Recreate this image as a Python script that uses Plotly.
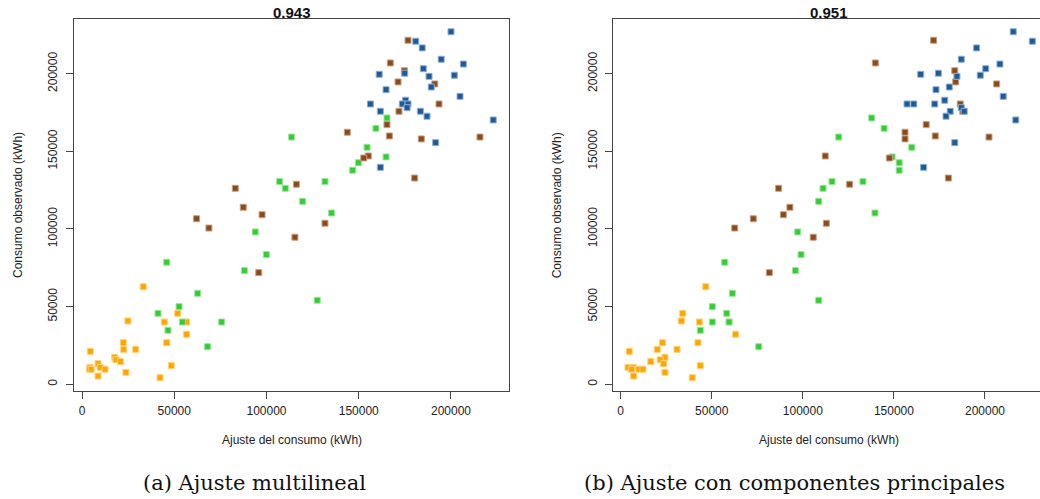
import plotly.graph_objects as go

# Consumo observado (kWh) por grupo y ajuste de cada modelo
obs_g1 = [62850, 45700, 40800, 40100, 40100, 32200, 26800, 26800, 22500, 22500, 21200, 17400,
          15800, 14600, 13300, 12000, 10900, 10900, 9700, 9700, 9700, 7700, 5300, 4250]
mult_g1 = [33200, 51850, 24900, 44600, 56700, 56700, 22400, 45900, 22600, 29100, 4500, 17700,
           18400, 20800, 8700, 48400, 9900, 4300, 4000, 12500, 5000, 23800, 8700, 42300]
acp_g1 = [46700, 34000, 33300, 43200, 59500, 63100, 22900, 42400, 20100, 30900, 4700, 24300,
          21700, 16500, 23600, 43700, 4000, 6800, 6000, 10000, 12200, 24300, 7100, 39300]

obs_g2 = [171500, 164800, 159200, 152600, 146400, 142700, 137800, 130500, 130500, 126200, 117800, 110300,
          98100, 83500, 78600, 73200, 58600, 54100, 50000, 45700, 40100, 40100, 34800, 24200]
mult_g2 = [165300, 159300, 113600, 154500, 164800, 149800, 146700, 107100, 131700, 110200, 119600, 135300,
           93900, 99900, 45900, 88000, 62700, 127500, 52600, 41200, 54400, 75700, 46600, 68100]
acp_g2 = [137800, 144600, 119700, 159800, 149000, 152900, 152900, 116000, 133000, 111100, 108700, 139600,
          97200, 99000, 57100, 95900, 61300, 108700, 50300, 58200, 50300, 59500, 43700, 75800]

obs_g3 = [221500, 206900, 201900, 194700, 193400, 180500, 175800, 167200, 162300, 159900, 159200, 158000,
          147000, 145700, 132800, 128800, 126200, 114000, 109200, 106600, 103700, 100600, 94700, 71900]
mult_g3 = [176700, 167100, 174700, 171300, 191200, 193500, 171800, 165300, 143800, 166600, 215700, 183900,
           155200, 152700, 180300, 116200, 83100, 87400, 97600, 62100, 131700, 68800, 115400, 95800]
acp_g3 = [171800, 139800, 183400, 183900, 206400, 186400, 187800, 167700, 156100, 172700, 202200, 156100,
          112300, 147500, 179900, 125700, 86700, 92900, 89300, 72800, 112900, 62600, 105700, 81600]

obs_g4 = [227000, 220900, 216600, 209300, 206200, 203200, 200300, 199600, 199000, 198300, 191400, 189700,
          185400, 182900, 180500, 180500, 180500, 178100, 175800, 175800, 172600, 170200, 155600, 139700]
mult_g4 = [200000, 180900, 184400, 194700, 206700, 185000, 174900, 161100, 201800, 188100, 189300, 164800,
           204900, 175400, 156300, 173600, 176700, 176200, 161700, 183400, 187000, 222900, 191700, 161700]
acp_g4 = [215500, 226000, 195400, 187000, 208200, 200400, 174400, 164700, 197400, 184600, 180400, 173100,
          210000, 177900, 157200, 160900, 172400, 187000, 180900, 188600, 178600, 216900, 183400, 166300]

grupos = [
    (obs_g1, mult_g1, acp_g1, "#FFA500", "#FFD27A"),
    (obs_g2, mult_g2, acp_g2, "#33CC33", "#9BE59B"),
    (obs_g3, mult_g3, acp_g3, "#8B4A1A", "#C9A184"),
    (obs_g4, mult_g4, acp_g4, "#1E5A9A", "#8FB0D2"),
]

r2_valores = ["0.943", "0.951"]
subtitulos = ["(a) Ajuste multilineal", "(b) Ajuste con componentes principales"]
ticks = [0, 50000, 100000, 150000, 200000]

W, H = 1040, 499
fig = go.Figure()

for obs, mult, acp, color, borde in grupos:
    for ajuste, xa, ya in ((mult, "x", "y"), (acp, "x2", "y2")):
        fig.add_trace(go.Scatter(
            x=ajuste, y=obs, mode="markers", xaxis=xa, yaxis=ya, showlegend=False,
            marker=dict(symbol="square", size=6, color=color,
                        line=dict(color=borde, width=1)),
        ))

# Cajas de los paneles en píxeles
paneles = [(74, 509), (613.3, 1040)]
top_px, bot_px = 18.7, 391
y_dom = [(H - bot_px) / H, (H - top_px) / H]
x_rangos = [[-4336, 231440], [-4060, 230200]]
y_rango = [-4314, 235400]

eje_font = dict(family="Liberation Sans, Arial, sans-serif", size=12, color="#222")
for i, ((x0, x1), xr) in enumerate(zip(paneles, x_rangos)):
    sfx = "" if i == 0 else "2"
    fig.layout["xaxis" + sfx] = dict(
        domain=[x0 / W, x1 / W], range=xr, tickvals=ticks, ticktext=[str(t) for t in ticks],
        ticks="outside", ticklen=7, tickcolor="#444", showline=True, linecolor="#444",
        linewidth=1, mirror=True, showgrid=False, zeroline=False, tickfont=eje_font,
        anchor="y" + sfx, ticklabelstandoff=2,
    )
    fig.layout["yaxis" + sfx] = dict(
        domain=y_dom, range=y_rango, tickvals=ticks, ticktext=[str(t) for t in ticks],
        ticks="outside", ticklen=7, tickcolor="#444", showline=True, linecolor="#444",
        linewidth=1, mirror=(i == 0), showgrid=False, zeroline=False, tickfont=eje_font,
        tickangle=-90, anchor="x" + sfx, ticklabelstandoff=4,
    )

    cx = (x0 + (x1 if i == 0 else 1045)) / 2
    anot = [
        dict(text="<b>%s</b>" % r2_valores[i], x=cx / W, y=(H - 12) / H,
             font=dict(family="Liberation Sans, Arial, sans-serif", size=15, color="#111")),
        dict(text="Ajuste del consumo (kWh)", x=cx / W, y=(H - 440) / H,
             font=dict(family="Liberation Sans, Arial, sans-serif", size=12, color="#222")),
        dict(text="Consumo observado (kWh)", x=(x0 - 56) / W, y=(H - 205) / H, textangle=-90,
             font=dict(family="Liberation Sans, Arial, sans-serif", size=12, color="#222")),
        dict(text=subtitulos[i], x=(254 if i == 0 else 794) / W, y=(H - 483) / H,
             font=dict(family="DejaVu Serif, Liberation Serif, serif", size=21, color="#111")),
    ]
    for a in anot:
        fig.add_annotation(xref="paper", yref="paper", showarrow=False,
                           xanchor="center", yanchor="middle", **a)

fig.update_layout(
    width=W, height=H, margin=dict(l=0, r=0, t=0, b=0),
    paper_bgcolor="white", plot_bgcolor="white",
)

fig.write_html("out.html")
